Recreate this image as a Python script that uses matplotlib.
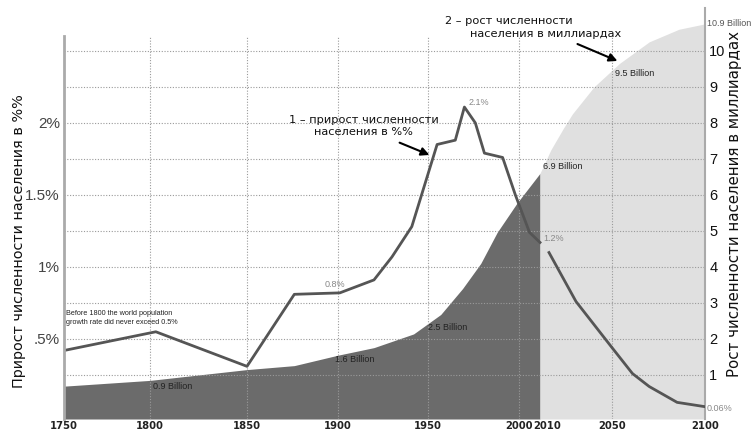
import numpy as np
import matplotlib
matplotlib.use("Agg")
import matplotlib.pyplot as plt
from matplotlib.ticker import NullLocator
from matplotlib.transforms import blended_transform_factory, ScaledTranslation

plt.rcParams['font.family'] = ['Liberation Sans', 'DejaVu Sans']

# growth rate, % per year (historical)
growth_years = [1750, 1803, 1850, 1876, 1901, 1920, 1930, 1941, 1955, 1965, 1970, 1976, 1981, 1991, 1998, 2005, 2010]
growth_pct = [0.42, 0.55, 0.31, 0.81, 0.82, 0.91, 1.07, 1.28, 1.85, 1.88, 2.11, 2.00, 1.79, 1.76, 1.50, 1.24, 1.17]

# growth rate, projection
proj_years = [2015, 2030, 2050, 2061, 2070, 2085, 2100]
proj_pct = [1.10, 0.76, 0.44, 0.26, 0.17, 0.06, 0.03]

# population, billions (historical)
pop_years = [1750, 1800, 1850, 1876, 1900, 1920, 1942, 1957, 1969, 1979, 1988, 1999, 2010]
pop_bn = [0.69, 0.85, 1.15, 1.26, 1.55, 1.76, 2.14, 2.68, 3.40, 4.10, 4.96, 5.78, 6.60]

# population, projection
proj_pop_years = [2010, 2016, 2023, 2028, 2040, 2054, 2070, 2086, 2100]
proj_pop_bn = [6.60, 7.25, 7.85, 8.25, 9.00, 9.65, 10.25, 10.60, 10.75]

year_ticks = [1750, 1800, 1850, 1900, 1950, 2000, 2010, 2050, 2100]
pct_ticks = [0.5, 1, 1.5, 2]
pct_labels = ['.5%', '1%', '1.5%', '2%']
bn_ticks = [1, 2, 3, 4, 5, 6, 7, 8, 9, 10]

# the original time axis is hand-drawn: uneven spacing between ticks
tick_px = [64, 150, 247, 338, 428, 519, 540, 612, 705]


def fwd(x):
    return np.interp(x, year_ticks, tick_px)


def inv(p):
    return np.interp(p, tick_px, year_ticks)


W, H = 752, 433
fig = plt.figure(figsize=(W / 100, H / 100), dpi=100)
ax = fig.add_axes([64 / W, 1 - 419 / H, 641 / W, 411 / H])
ax2 = ax.twinx()

ax.set_xscale('function', functions=(fwd, inv))
ax.set_xlim(1750, 2100)
bn_lo, bn_hi = -0.222, 11.19
ax.set_ylim(bn_lo, bn_hi)
ax2.set_ylim(bn_lo / 4, bn_hi / 4)

# population areas
ax.fill_between(pop_years, pop_bn, bn_lo, color='#6b6b6b', lw=0, zorder=1)
ax.fill_between(proj_pop_years, proj_pop_bn, bn_lo, color='#e0e0e0', lw=0, zorder=1)

# dotted grid
ax.hlines(bn_ticks, 1750, 2100, colors='#9a9a9a', linestyles=(0, (1, 1.5)), lw=0.8, zorder=2)
ax.vlines([1800, 1850, 1900, 1950, 2000, 2050], bn_lo, 10.4, colors='#9a9a9a',
          linestyles=(0, (1, 1.5)), lw=0.8, zorder=2)

# growth rate lines
ax2.plot(growth_years, growth_pct, color='#555555', lw=2)
ax2.plot(proj_years, proj_pct, color='#555555', lw=2)

# axes styling
for s in ax.spines.values():
    s.set_visible(False)
for s in ax2.spines.values():
    s.set_visible(False)
ax.spines['right'].set_visible(True)
ax.spines['right'].set_color('#aaaaaa')
ax.spines['right'].set_linewidth(1.5)
ax2.spines['left'].set_visible(True)
ax2.spines['left'].set_color('#aaaaaa')
ax2.spines['left'].set_linewidth(2)
ax2.spines['left'].set_bounds(bn_lo / 4, 2.6)

ax.yaxis.tick_right()
ax.set_yticks(bn_ticks)
ax.tick_params(axis='y', length=0, pad=3, labelsize=10.5, labelcolor='#111111')
ax2.yaxis.tick_left()
ax2.set_yticks(pct_ticks)
ax2.set_yticklabels(pct_labels)
ax2.tick_params(axis='y', length=0, pad=3, labelsize=11, labelcolor='#444444')

ax.set_xticks(year_ticks)
ax.set_xticklabels([str(y) for y in year_ticks], fontweight='bold', fontsize=7.2,
                   family='DejaVu Sans', color='#222222')
ax.xaxis.set_minor_locator(NullLocator())
ax.tick_params(axis='x', length=0, pad=1.5)
# 2010 sits just right of the 2000 label in the original
lbl = ax.get_xticklabels()[6]
lbl.set_transform(lbl.get_transform() + ScaledTranslation(0.075, 0, fig.dpi_scale_trans))

# axis titles
fig.text(19 / W, 1 - 241 / H, 'Прирост численности населения в %%', rotation=90,
         ha='center', va='center', fontsize=10.4, family='DejaVu Sans', color='#111111')
fig.text(734 / W, 1 - 204 / H, 'Рост численности населения в миллиардах', rotation=90,
         ha='center', va='center', fontsize=10.8, family='DejaVu Sans', color='#111111')

# value labels
small = dict(fontsize=6.5, color='#222222', va='center', ha='left')
ax.text(1801.5, 0.67, '0.9 Billion', **small)
ax.text(1898.3, 1.44, '1.6 Billion', **small)
ax.text(1950, 2.31, '2.5 Billion', **small)
ax.text(2011.7, 6.78, '6.9 Billion', **small)
ax.text(2051.6, 9.36, '9.5 Billion', **small)
right_edge = blended_transform_factory(ax.transAxes, ax.transData)
ax.text(1.003, 10.75, '10.9 Billion', transform=right_edge, fontsize=6.5, color='#555555', va='center')
ax2.text(1.003, 0.014, '0.06%', transform=blended_transform_factory(ax2.transAxes, ax2.transData),
         fontsize=6.5, color='#888888', va='center')

pct_style = dict(fontsize=6.5, color='#888888', va='center', ha='left')
ax2.text(1892.8, 0.88, '0.8%', **pct_style)
ax2.text(1972.5, 2.14, '2.1%', **pct_style)
ax2.text(2011.7, 1.20, '1.2%', **pct_style)

ax2.text(1751, 0.646, 'Before 1800 the world population\ngrowth rate did never exceed 0.5%',
         fontsize=5.2, color='#222222', va='center', ha='left', linespacing=1.3)

# callouts
ax2.text(1914.4, 1.98, '1 – прирост численности\nнаселения в %%', ha='center', va='center',
         fontsize=8.2, family='DejaVu Sans', color='#111111', linespacing=1.25)
ax2.annotate('', xy=(1952.2, 1.77), xytext=(1932.8, 1.87),
             arrowprops=dict(arrowstyle='-|>', color='black', lw=1.5, mutation_scale=12))

ax.text(1959.3, 10.83, '2 – рост численности', ha='left', va='center',
        fontsize=8.2, family='DejaVu Sans', color='#111111')
ax.text(1973.1, 10.47, 'населения в миллиардах', ha='left', va='center',
        fontsize=8.2, family='DejaVu Sans', color='#111111')
ax.annotate('', xy=(2054.3, 9.69), xytext=(2029.4, 10.22),
            arrowprops=dict(arrowstyle='-|>', color='black', lw=1.5, mutation_scale=12))

fig.savefig('out.png', dpi=100)
